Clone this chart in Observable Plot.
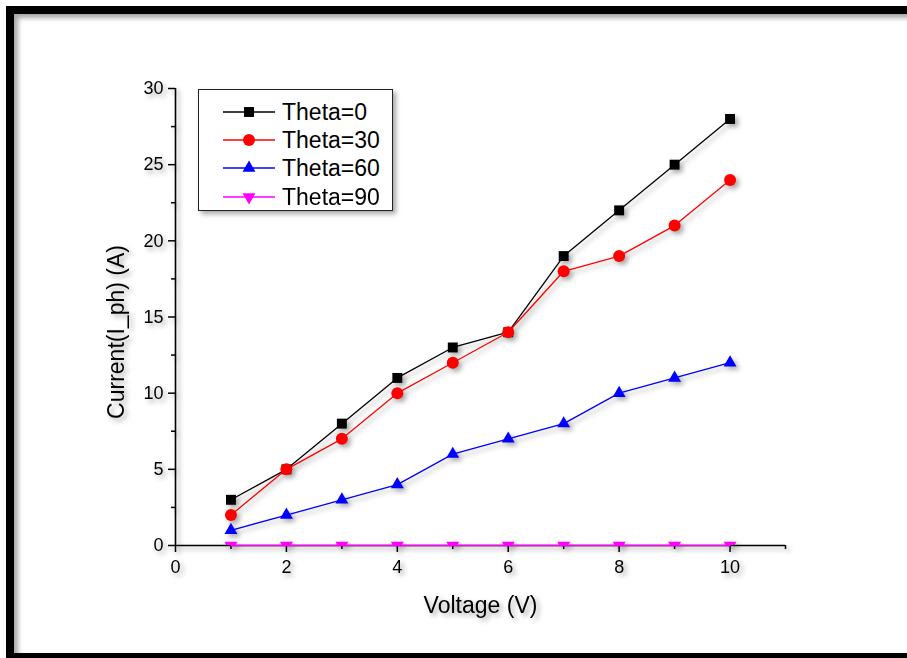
<!DOCTYPE html>
<html>
<head>
<meta charset="utf-8">
<script src="https://cdn.jsdelivr.net/npm/d3@7"></script>
<script src="https://cdn.jsdelivr.net/npm/@observablehq/plot@0.6"></script>
<style>
  html, body { margin: 0; padding: 0; background: #fff; overflow: hidden; width: 907px; height: 658px; }
  #wrap { position: relative; width: 907px; height: 658px; font-family: "Liberation Sans", Arial, sans-serif; }
  #chart { position: absolute; left: 0; top: 0; }
  #chart svg { filter: drop-shadow(3px 3px 2.5px rgba(0,0,0,0.35)); }
  #frame { position: absolute; left: 6px; top: 6px; width: 1000px; height: 655px; box-sizing: border-box;
           border-left: 8px solid #000; border-top: 8px solid #000; border-bottom: 8px solid #000;
           box-shadow: inset 4px 4px 5px rgba(0,0,0,0.35); pointer-events: none; }
  #legend { position: absolute; left: 198px; top: 89px; }
</style>
</head>
<body>
<div id="wrap">
  <div id="chart"></div>
  <div id="legend"></div>
  <div id="frame"></div>
</div>
<script>
// ---- data ----
const voltage = [1, 2, 3, 4, 5, 6, 7, 8, 9, 10];
const theta0  = [3, 5, 8, 11, 13, 14, 19, 22, 25, 28];
const theta30 = [2, 5, 7, 10, 12, 14, 18, 19, 21, 24];
const theta60 = [1, 2, 3, 4, 6, 7, 8, 10, 11, 12];
const theta90 = [0, 0, 0, 0, 0, 0, 0, 0, 0, 0];
const seriesNames = ["Theta=0", "Theta=30", "Theta=60", "Theta=90"];
const seriesValues = [theta0, theta30, theta60, theta90];
const xMajorTicks = [0, 2, 4, 6, 8, 10];
const xMinorTicks = [1, 3, 5, 7, 9, 11];
const yMajorTicks = [0, 5, 10, 15, 20, 25, 30];
const yMinorTicks = [2.5, 7.5, 12.5, 17.5, 22.5, 27.5];
const xLabel = "Voltage (V)";
const yLabel = "Current(I_ph) (A)";

// ---- styles ----
const seriesColors = ["#000000", "#ff0000", "#0000ff", "#ff00ff"];
const seriesSymbols = ["square", "circle", "triangle", "triangle"];
const seriesRotate = [0, 0, 0, 180];
const seriesR = [5.6, 6, 4.8, 4.8];

const table = seriesNames.flatMap((name, i) =>
  voltage.map((v, j) => ({ voltage: v, current: seriesValues[i][j], series: name })));

const font = "Liberation Sans, Arial, sans-serif";

const seriesMarks = seriesNames.flatMap((name, i) => {
  const rows = table.filter(d => d.series === name);
  return [
    Plot.line(rows, { x: "voltage", y: "current", stroke: seriesColors[i], strokeWidth: 1.3 }),
    Plot.dot(rows, { x: "voltage", y: "current", symbol: () => seriesSymbols[i], fill: seriesColors[i],
      stroke: "none", r: seriesR[i], rotate: seriesRotate[i], clip: i === 3 ? "frame" : undefined })
  ];
});

const chart = Plot.plot({
  width: 907,
  height: 658,
  marginLeft: 175,
  marginRight: 122,
  marginTop: 88,
  marginBottom: 113,
  style: { background: "transparent", fontFamily: font, color: "#000" },
  x: { domain: [0, 11], axis: null },
  y: { domain: [0, 30], axis: null },
  symbol: { type: "identity" },
  marks: [
    Plot.axisX({ ticks: xMajorTicks, tickSize: 7, tickPadding: 8, tickFormat: d => d, fontSize: 18, label: null, strokeWidth: 1.5 }),
    Plot.axisX({ ticks: xMinorTicks, tickSize: 4, tickFormat: () => "", label: null, strokeWidth: 1.5 }),
    Plot.axisY({ ticks: yMajorTicks, tickSize: 7, tickPadding: 5, tickFormat: d => d, fontSize: 18, label: null, strokeWidth: 1.5 }),
    Plot.axisY({ ticks: yMinorTicks, tickSize: 4, tickFormat: () => "", label: null, strokeWidth: 1.5 }),
    Plot.ruleY([0], { stroke: "#000", strokeWidth: 1.6 }),
    Plot.ruleX([0], { stroke: "#000", strokeWidth: 1.6 }),
    Plot.text([xLabel], { text: d => d, frameAnchor: "bottom", textAnchor: "middle", dy: 67, fontSize: 23, fill: "#000" }),
    Plot.text([yLabel], { text: d => d, frameAnchor: "left", textAnchor: "middle", rotate: -90, dx: -59, dy: 15, fontSize: 23, fill: "#000" }),
    ...seriesMarks
  ]
});
document.getElementById("chart").appendChild(chart);

// ---- legend ----
const lw = 194, lh = 121;
const legend = d3.select("#legend").append("svg")
  .attr("width", lw + 8).attr("height", lh + 8)
  .style("filter", "drop-shadow(3px 3px 2.5px rgba(0,0,0,0.35))");
legend.append("rect").attr("x", 0.5).attr("y", 0.5).attr("width", lw).attr("height", lh)
  .attr("fill", "#fff").attr("stroke", "#222").attr("stroke-width", 1);
const rowY = [23, 51, 79, 108];
const symbolTypes = { square: d3.symbolSquare, circle: d3.symbolCircle, triangle: d3.symbolTriangle };
seriesNames.forEach((name, i) => {
  const g = legend.append("g").attr("transform", `translate(0,${rowY[i]})`);
  g.append("line").attr("x1", 25).attr("x2", 77).attr("y1", 0).attr("y2", 0)
    .attr("stroke", seriesColors[i]).attr("stroke-width", 1.3);
  g.append("path")
    .attr("d", d3.symbol(symbolTypes[seriesSymbols[i]], Math.PI * seriesR[i] * seriesR[i])())
    .attr("transform", `translate(51,0) rotate(${seriesRotate[i]})`)
    .attr("fill", seriesColors[i]);
  g.append("text").attr("x", 84).attr("y", 0).attr("dy", "0.36em")
    .attr("font-family", font).attr("font-size", 23).attr("fill", "#000").text(name);
});
</script>
</body>
</html>
